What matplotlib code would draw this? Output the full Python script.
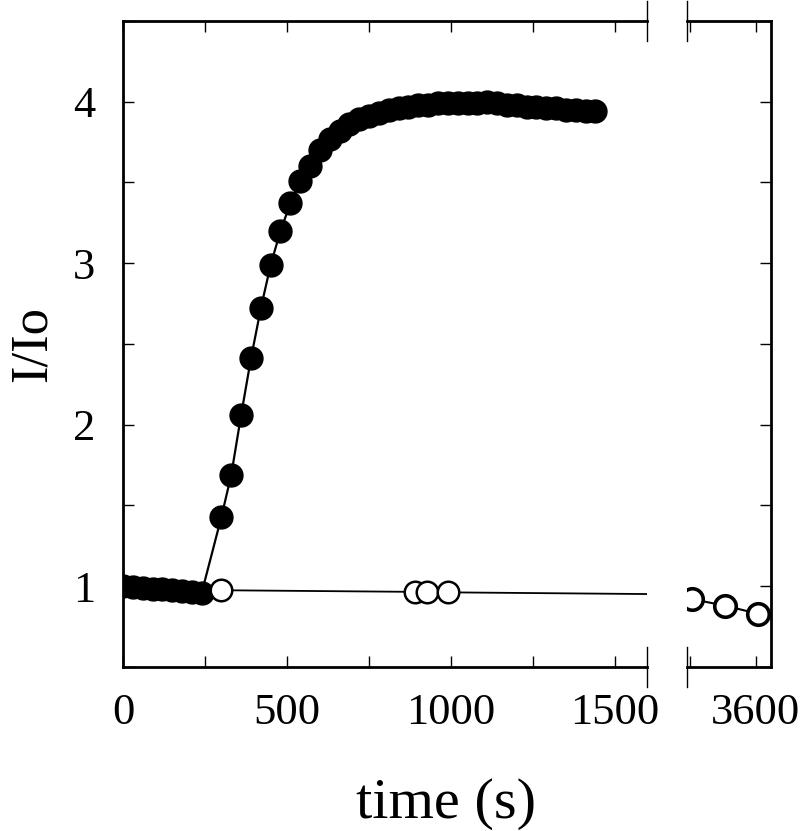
import matplotlib.pyplot as plt
import numpy as np
from matplotlib.ticker import MultipleLocator, FixedLocator

plt.rcParams['font.family'] = ['Liberation Serif', 'DejaVu Serif']

# filled circles: time (s) and I/Io
t_filled = [0, 30, 60, 90, 120, 150, 180, 210, 240,
            300, 330, 360, 390, 420, 450, 480, 510, 540, 570,
            600, 630, 660, 690, 720, 750, 780, 810, 840, 870,
            900, 930, 960, 990, 1020, 1050, 1080, 1110, 1140, 1170,
            1200, 1230, 1260, 1290, 1320, 1350, 1380, 1410, 1440]
y_filled = [1.00, 0.995, 0.99, 0.985, 0.98, 0.975, 0.97, 0.965, 0.96,
            1.43, 1.69, 2.06, 2.41, 2.72, 2.99, 3.20, 3.37, 3.51, 3.60,
            3.70, 3.77, 3.82, 3.86, 3.89, 3.91, 3.93, 3.95, 3.96, 3.97,
            3.98, 3.98, 3.99, 3.99, 3.99, 3.99, 3.99, 4.00, 3.99, 3.98,
            3.98, 3.97, 3.97, 3.96, 3.96, 3.95, 3.95, 3.94, 3.94]

# open circles
t_open = [300, 890, 927, 991, 3405, 3505, 3605]
y_open = [0.975, 0.965, 0.963, 0.962, 0.92, 0.88, 0.83]

fig = plt.figure(figsize=(8, 8.31), dpi=100)
ax1 = fig.add_axes([0.15375, 0.1974, 0.655, 0.7774])
ax2 = fig.add_axes([0.85875, 0.1974, 0.105, 0.7774])

for ax in (ax1, ax2):
    ax.plot(t_filled, y_filled, '-', color='black', lw=1.6,
            marker='o', ms=16.5, mfc='black', mec='black', zorder=3)
    ax.set_ylim(0.5, 4.5)
    ax.tick_params(which='both', direction='in', length=8, width=1,
                   top=True, labelsize=32, pad=19)
    ax.yaxis.set_minor_locator(MultipleLocator(0.5))
    for sp in ax.spines.values():
        sp.set_linewidth(2)

ax1.plot(t_open, y_open, '-', color='black', lw=1.3,
         marker='o', ms=15.5, mfc='white', mec='black', mew=1.8, zorder=4)
ax2.plot(t_open, y_open, '-', color='black', lw=1.5,
         marker='o', ms=15.5, mfc='white', mec='black', mew=2.6, zorder=4)

ax1.set_xlim(0, 1597)
ax1.xaxis.set_major_locator(FixedLocator([0, 500, 1000, 1500]))
ax1.xaxis.set_minor_locator(FixedLocator([250, 750, 1250]))
ax1.yaxis.set_major_locator(FixedLocator([1, 2, 3, 4]))
ax1.spines['right'].set_visible(False)
ax1.tick_params(right=False, which='both')
ax1.tick_params(axis='y', pad=20)

ax2.set_xlim(3390, 3646)
ax2.xaxis.set_major_locator(FixedLocator([3600]))
ax2.xaxis.set_minor_locator(FixedLocator([3400]))
ax2.yaxis.set_major_locator(FixedLocator([1, 2, 3, 4]))
ax2.spines['left'].set_visible(False)
ax2.tick_params(left=False, right=True, labelleft=False, which='both')

# break marks
d = 0.031
ax1.plot([1, 1], [-d, d], transform=ax1.transAxes, color='black', lw=1, clip_on=False)
ax1.plot([1, 1], [1 - d, 1 + d], transform=ax1.transAxes, color='black', lw=1, clip_on=False)
ax2.plot([0, 0], [-d, d], transform=ax2.transAxes, color='black', lw=1, clip_on=False)
ax2.plot([0, 0], [1 - d, 1 + d], transform=ax2.transAxes, color='black', lw=1, clip_on=False)

ax1.set_ylabel('I/Io', fontsize=38, labelpad=12)
fig.text(0.557, 0.032, 'time (s)', fontsize=42, ha='center', va='center')

fig.savefig('out.png', dpi=100)
